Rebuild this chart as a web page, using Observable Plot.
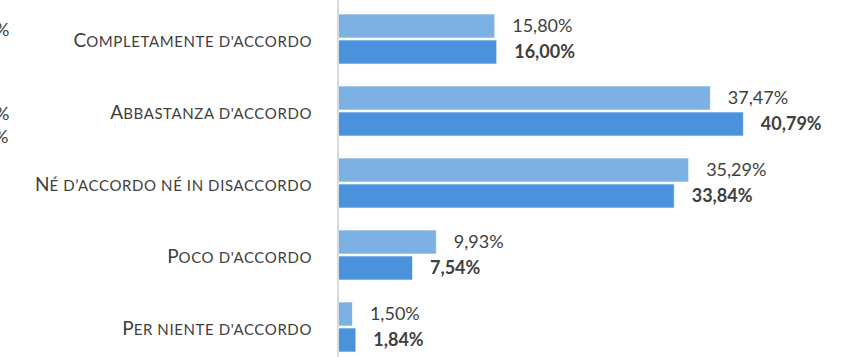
<!DOCTYPE html>
<html>
<head>
<meta charset="utf-8">
<script src="https://cdn.jsdelivr.net/npm/d3@7"></script>
<script src="https://cdn.jsdelivr.net/npm/@observablehq/plot@0.6"></script>
<style>
  html, body { margin: 0; padding: 0; background: #fff; }
  #wrap { position: relative; width: 846px; height: 357px; overflow: hidden; }
  .frag { position: absolute; font-family: Lato, "Open Sans", sans-serif; font-size: 18px; color: #404040; }
  .cat tspan.rest { letter-spacing: 0.6px; }
</style>
</head>
<body>
<div id="wrap">
  <span class="frag" style="left:-5px; top:18px;">%</span>
  <span class="frag" style="left:-5px; top:102px;">%</span>
  <span class="frag" style="left:-6px; top:125px;">%</span>
</div>
<script>
const categories = [
  "Completamente d'accordo",
  "Abbastanza d'accordo",
  "Né d’accordo né in disaccordo",
  "Poco d'accordo",
  "Per niente d'accordo"
];
const series1 = [15.80, 37.47, 35.29, 9.93, 1.50];
const series2 = [16.00, 40.79, 33.84, 7.54, 1.84];
const labels1 = ["15,80%", "37,47%", "35,29%", "9,93%", "1,50%"];
const labels2 = ["16,00%", "40,79%", "33,84%", "7,54%", "1,84%"];

const rows1 = categories.map((c, i) => ({category: c, value: series1[i], label: labels1[i]}));
const rows2 = categories.map((c, i) => ({category: c, value: series2[i], label: labels2[i]}));

const FONT = "Lato, 'Open Sans', sans-serif";

const chart = Plot.plot({
  width: 846,
  height: 357,
  marginTop: 0,
  marginBottom: 0,
  marginLeft: 0,
  marginRight: 0,
  style: {fontFamily: FONT, background: "transparent"},
  x: {domain: [0, 50], range: [337.5, 835], axis: null},
  y: {domain: categories, range: [1.8, 363.8], paddingInner: 0.309, paddingOuter: 0.155, axis: null},
  marks: [
    Plot.barX(rows1, {x1: 0, x2: "value", y: "category", insetBottom: 26, fill: "#7db0e3", stroke: "#ffffff", strokeOpacity: 0.6, strokeWidth: 1}),
    Plot.barX(rows2, {x1: 0, x2: "value", y: "category", insetTop: 26, fill: "#4a92db", stroke: "#ffffff", strokeOpacity: 0.6, strokeWidth: 1}),
    Plot.ruleX([0], {stroke: "#d9d9d9", strokeWidth: 2}),
    Plot.text(rows1, {x: "value", y: "category", text: "label", dy: -13, dx: 17, textAnchor: "start", fontSize: 18, fill: "#404040", fontFamily: FONT}),
    Plot.text(rows2, {x: "value", y: "category", text: "label", dy: 13, dx: 17, textAnchor: "start", fontSize: 18, fontWeight: "bold", fill: "#404040", fontFamily: FONT}),
    Plot.text(categories, {x: 0, y: d => d, text: d => d, dx: -26, dy: 1, textAnchor: "end", fontSize: 19, fill: "#404040", fontFamily: FONT, className: "cat"})
  ]
});
// render labels in small capitals: first letter full size, the rest as smaller capitals
chart.querySelectorAll(".cat text").forEach(t => {
  const s = t.textContent;
  t.textContent = "";
  const ns = "http://www.w3.org/2000/svg";
  const a = document.createElementNS(ns, "tspan");
  a.textContent = s.charAt(0).toUpperCase();
  const b = document.createElementNS(ns, "tspan");
  b.setAttribute("class", "rest");
  b.setAttribute("font-size", "15");
  b.textContent = s.slice(1).toUpperCase();
  t.appendChild(a);
  t.appendChild(b);
});
chart.style.position = "absolute";
chart.style.left = "0px";
chart.style.top = "0px";
document.getElementById("wrap").appendChild(chart);
</script>
</body>
</html>
